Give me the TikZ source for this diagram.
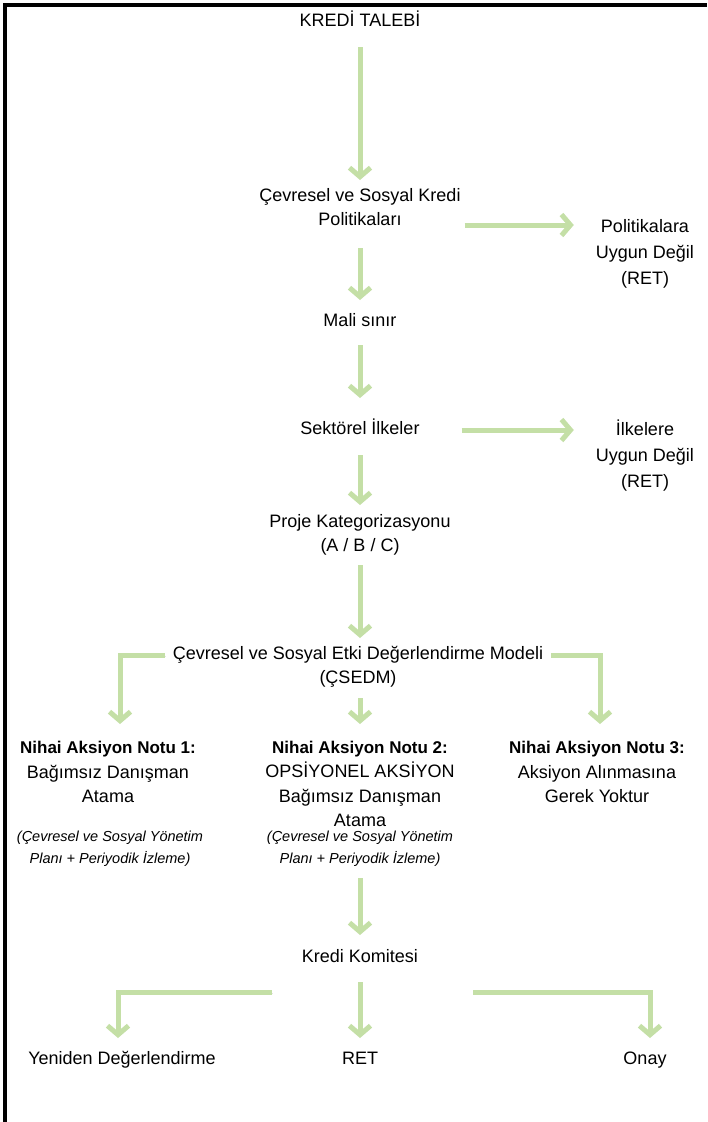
\documentclass[tikz,border=0pt]{standalone}
\usepackage{fontspec}
\setmainfont{Liberation Sans}
\usetikzlibrary{arrows.meta,calc}
\definecolor{okgreen}{HTML}{C4DFA6}

\begin{document}
\begin{tikzpicture}[x=1pt,y=-1pt,
  txt/.style={align=center,inner sep=0pt,font=\fontsize{18}{24.5}\selectfont},
  tek/.style={txt,text height=13pt,text depth=4pt},
  ret/.style={align=center,inner sep=0pt,font=\fontsize{18}{26}\selectfont},
  plan/.style={align=center,inner sep=0pt,font=\fontsize{14.5}{22}\selectfont\itshape},
  garrow/.style={draw=okgreen,line width=5pt,-{Straight Barb[length=9pt,width=21pt]},
    preaction={draw=black!35,opacity=0.3,transform canvas={shift={(1.2pt,-1.5pt)}}}}]
\useasboundingbox (0,0) rectangle (707,1122);
\draw[line width=3.2pt] (5,1122) -- (5,5) -- (707,5);

\node[tek] (talep) at (360,22) {KREDİ TALEBİ};
\node[txt] (pol) at (360,207) {Çevresel ve Sosyal Kredi\\Politikaları};
\node[ret] (polret) at (645,254) {Politikalara\\Uygun Değil\\(RET)};
\node[tek] (mali) at (360,322) {Mali sınır};
\node[tek] (sekt) at (360,430) {Sektörel İlkeler};
\node[ret] (ilkret) at (645,456) {İlkelere\\Uygun Değil\\(RET)};
\node[txt] (proje) at (360,535) {Proje Kategorizasyonu\\(A / B / C)};
\node[txt] (csedm) at (358,667) {Çevresel ve Sosyal Etki Değerlendirme Modeli\\(ÇSEDM)};
\node[txt] (not1) at (108,772) {\fontsize{17}{24.5}\selectfont\textbf{Nihai Aksiyon Notu 1:}\\Bağımsız Danışman\\Atama};
\node[txt] (not2) at (360,784) {\fontsize{17}{24.5}\selectfont\textbf{Nihai Aksiyon Notu 2:}\\OPSİYONEL AKSİYON\\Bağımsız Danışman\\Atama};
\node[txt] (not3) at (597,772) {\fontsize{17}{24.5}\selectfont\textbf{Nihai Aksiyon Notu 3:}\\Aksiyon Alınmasına\\Gerek Yoktur};
\node[plan] (plan1) at (110,849) {(Çevresel ve Sosyal Yönetim\\Planı + Periyodik İzleme)};
\node[plan] (plan2) at (360,849) {(Çevresel ve Sosyal Yönetim\\Planı + Periyodik İzleme)};
\node[tek] (komite) at (360,958) {Kredi Komitesi};
\node[tek] (yeniden) at (122,1060) {Yeniden Değerlendirme};
\node[tek] (retson) at (360,1060) {RET};
\node[tek] (onay) at (645,1060) {Onay};

% ana akis
\draw[garrow] ($(talep)+(0,25)$) -- ($(pol)+(0,-27)$);
\draw[garrow] ($(pol)+(0,41)$) -- ($(mali)+(0,-22)$);
\draw[garrow] ($(mali)+(0,23)$) -- ($(sekt)+(0,-32)$);
\draw[garrow] ($(sekt)+(0,25)$) -- ($(proje)+(0,-30)$);
\draw[garrow] ($(proje)+(0,30)$) -- ($(proje |- csedm)+(0,-29)$);
% ret kollari
\draw[garrow] ($(pol.east)+(4,18)$) -- ($(pol.east -| polret.west)+(-22,18)$);
\draw[garrow] ($(sekt.east)+(42,0)$) -- ($(sekt -| ilkret.west)+(-22,0)$);
% aksiyon notlari
\draw[garrow] ($(csedm.west)+(-8,-12)$) -| ($(not1)+(12,-48)$);
\draw[garrow] ($(not2 |- csedm)+(0,31)$) -- ($(not2)+(0,-60)$);
\draw[garrow] ($(csedm.east)+(8,-12)$) -| ($(not3)+(3,-48)$);
\draw[garrow] ($(plan2)+(0,29)$) -- ($(komite)+(0,-23)$);
% komite kararlari
\draw[garrow] ($(komite)+(-88,34)$) -| ($(yeniden)+(-4,-22)$);
\draw[garrow] ($(komite)+(0,24)$) -- ($(retson)+(0,-22)$);
\draw[garrow] ($(komite)+(113,34)$) -| ($(onay)+(5,-22)$);
\end{tikzpicture}
\end{document}
